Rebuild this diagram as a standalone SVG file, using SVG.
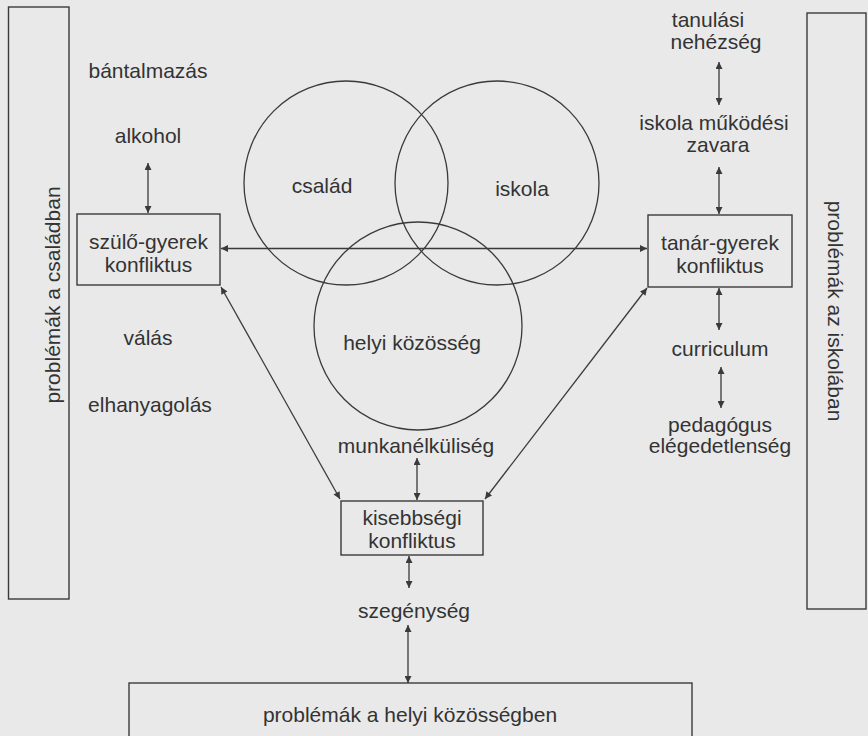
<svg xmlns="http://www.w3.org/2000/svg" width="868" height="736" viewBox="0 0 868 736">
<defs>
<style>
.bg{fill:#e9e9e9}
.box{fill:none;stroke:#3a3a3a;stroke-width:1.4}
.circ{fill:none;stroke:#3a3a3a;stroke-width:1.3}
.con{fill:none;stroke:#3a3a3a;stroke-width:1.3;marker-start:url(#ah);marker-end:url(#ah)}
text{font-family:"Liberation Sans",Arial,sans-serif;font-size:21px;fill:#333333;text-anchor:middle}
</style>
<marker id="ah" viewBox="0 0 10 10" refX="10" refY="5" markerWidth="8" markerHeight="7" markerUnits="userSpaceOnUse" orient="auto-start-reverse">
<path d="M0,0 L10,5 L0,10 z" fill="#3a3a3a"/>
</marker>
</defs>
<rect class="bg" x="0" y="0" width="868" height="736"/>

<g id="circles">
<circle id="csalad-circle" class="circ" cx="346" cy="183" r="102"/>
<circle id="iskola-circle" class="circ" cx="497" cy="183" r="102"/>
<circle id="kozosseg-circle" class="circ" cx="418" cy="326" r="104"/>
</g>

<g id="connectors">
<line class="con" x1="148" y1="163" x2="148" y2="213"/>
<line class="con" x1="221" y1="248.5" x2="647" y2="248.5"/>
<line class="con" x1="221" y1="287" x2="340" y2="499"/>
<line class="con" x1="647" y1="288" x2="485" y2="499"/>
<line class="con" x1="719" y1="62" x2="719" y2="105"/>
<line class="con" x1="719" y1="167" x2="719" y2="214"/>
<line class="con" x1="719" y1="288" x2="719" y2="330"/>
<line class="con" x1="721" y1="367" x2="721" y2="408"/>
<line class="con" x1="417" y1="458" x2="417" y2="500"/>
<line class="con" x1="409" y1="556" x2="409" y2="588"/>
<line class="con" x1="408" y1="625" x2="408" y2="683"/>
</g>

<g id="problemak-csaladban">
<rect class="box" x="8.5" y="7" width="60.5" height="592"/>
<text transform="translate(60,295) rotate(-90)">problémák a családban</text>
</g>
<g id="problemak-iskolaban">
<rect class="box" x="807" y="13" width="59" height="596"/>
<text transform="translate(828,311) rotate(90)">problémák az iskolában</text>
</g>

<g id="bantalmazas"><text x="148" y="78">bántalmazás</text></g>
<g id="alkohol"><text x="148" y="143">alkohol</text></g>
<g id="szulo-gyerek">
<rect class="box" x="77" y="214" width="143" height="71"/>
<text x="148.5" y="249">szülő-gyerek</text>
<text x="148.5" y="272">konfliktus</text>
</g>
<g id="valas"><text x="148" y="345">válás</text></g>
<g id="elhanyagolas"><text x="150" y="412">elhanyagolás</text></g>

<g id="csalad"><text x="322" y="193">család</text></g>
<g id="iskola"><text x="522" y="196">iskola</text></g>
<g id="helyi-kozosseg"><text x="412" y="350">helyi közösség</text></g>

<g id="tanulasi"><text x="708" y="27">tanulási</text><text x="716" y="49">nehézség</text></g>
<g id="iskola-mukodesi"><text x="714" y="130">iskola működési</text><text x="718" y="152">zavara</text></g>
<g id="tanar-gyerek">
<rect class="box" x="648" y="215" width="144" height="72"/>
<text x="720" y="250">tanár-gyerek</text>
<text x="720" y="273">konfliktus</text>
</g>
<g id="curriculum"><text x="720" y="356">curriculum</text></g>
<g id="pedagogus"><text x="720" y="432">pedagógus</text><text x="720" y="453">elégedetlenség</text></g>

<g id="munkanelkuliseg"><text x="416" y="453">munkanélküliség</text></g>
<g id="kisebbsegi">
<rect class="box" x="341" y="501" width="142" height="54"/>
<text x="412" y="525">kisebbségi</text>
<text x="412" y="548">konfliktus</text>
</g>
<g id="szegenyseg"><text x="414" y="618">szegénység</text></g>
<g id="problemak-kozossegben">
<rect class="box" x="129" y="683" width="563" height="60"/>
<text x="410" y="722">problémák a helyi közösségben</text>
</g>
</svg>
